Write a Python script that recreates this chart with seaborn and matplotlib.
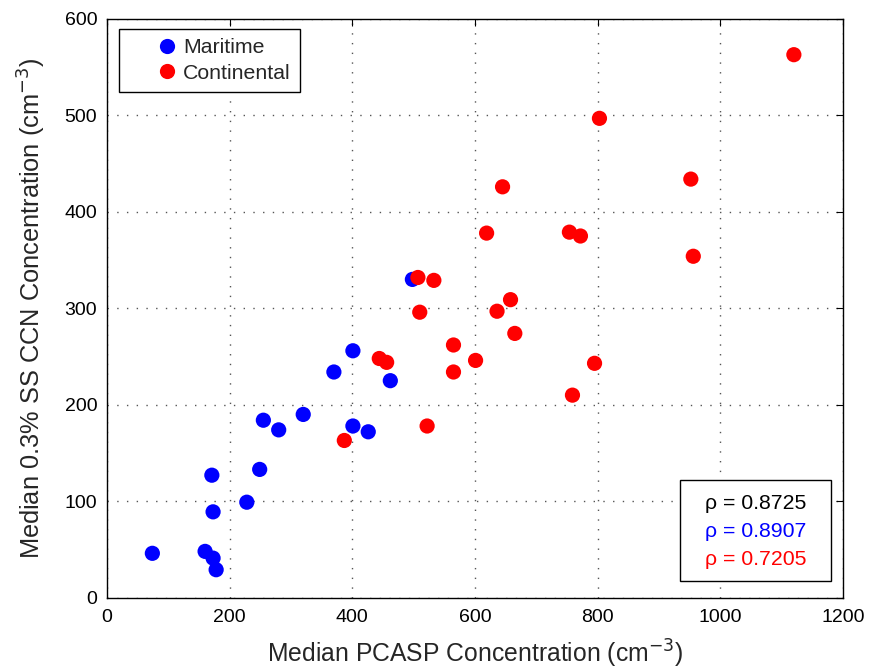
import numpy as np
import pandas as pd
import seaborn as sns
import matplotlib.pyplot as plt

# Median PCASP (x) and median 0.3% SS CCN (y) concentrations, cm^-3
maritime_x = [74, 160, 173, 178, 173, 171, 228, 249, 255, 280, 320, 401, 426, 370, 401, 462, 498]
maritime_y = [46, 48, 41, 29, 89, 127, 99, 133, 184, 174, 190, 178, 172, 234, 256, 225, 330]

continental_x = [387, 522, 444, 456, 565, 565, 601, 510, 803, 952, 645, 619, 754, 772,
                 956, 507, 533, 658, 636, 665, 795, 759, 1120]
continental_y = [163, 178, 248, 244, 262, 234, 246, 296, 497, 434, 426, 378, 379, 375,
                 354, 332, 329, 309, 297, 274, 243, 210, 563]

rho_labels = ["\u03c1 = 0.8725", "\u03c1 = 0.8907", "\u03c1 = 0.7205"]
rho_colors = ["black", "#0000ff", "#ff0000"]

df = pd.DataFrame({
    "pcasp": maritime_x + continental_x,
    "ccn": maritime_y + continental_y,
    "type": ["Maritime"] * len(maritime_x) + ["Continental"] * len(continental_x),
})

sns.set_theme(style="white")
plt.rcParams['font.family'] = ['Liberation Sans', 'DejaVu Sans']

fig = plt.figure(figsize=(8.69, 6.69), dpi=100)
ax = fig.add_axes([0.1231, 0.1066, 0.8469, 0.865])

sns.scatterplot(data=df, x="pcasp", y="ccn", hue="type",
                palette={"Maritime": "#0000ff", "Continental": "#ff0000"},
                s=120, edgecolor="none", ax=ax)

ax.set_xlim(0, 1200)
ax.set_ylim(0, 600)
ax.set_xticks(np.arange(0, 1201, 200))
ax.set_yticks(np.arange(0, 601, 100))
ax.grid(True, linestyle=(0, (1, 6)), color="#555555", linewidth=1.0)
ax.tick_params(direction="in", length=5, width=0.8, top=True, right=True,
               labelsize=14, colors="black")
ax.tick_params(axis="x", pad=8)
ax.tick_params(axis="y", pad=7)
for sp in ax.spines.values():
    sp.set_color("black")
    sp.set_linewidth(1.0)

ax.set_xlabel("Median PCASP Concentration (cm$^{-3}$)", fontsize=17.8, labelpad=9)
ax.set_ylabel("Median 0.3% SS CCN Concentration (cm$^{-3}$)", fontsize=18.3, labelpad=12)

# MATLAB-style legend: marker sits in the middle of a long handle
leg = ax.legend(loc="upper left", bbox_to_anchor=(0.016, 0.983), fontsize=15.3,
                frameon=True, fancybox=False, edgecolor="black", framealpha=1,
                handlelength=3.6, handletextpad=-1.02, borderpad=0.45,
                labelspacing=0.3, markerscale=1.0, borderaxespad=0)
leg.get_frame().set_linewidth(1.0)

# correlation box in the lower right
box = plt.Rectangle((0.779, 0.0285), 0.2045, 0.1755, transform=ax.transAxes,
                    facecolor="white", edgecolor="black", linewidth=1.0, zorder=5)
ax.add_patch(box)
for i, (lab, col) in enumerate(zip(rho_labels, rho_colors)):
    ax.text(0.813, 0.163 - i * 0.0483, lab, color=col, fontsize=15.3,
            transform=ax.transAxes, va="center", ha="left", zorder=6)

fig.savefig("out.png", dpi=100)
